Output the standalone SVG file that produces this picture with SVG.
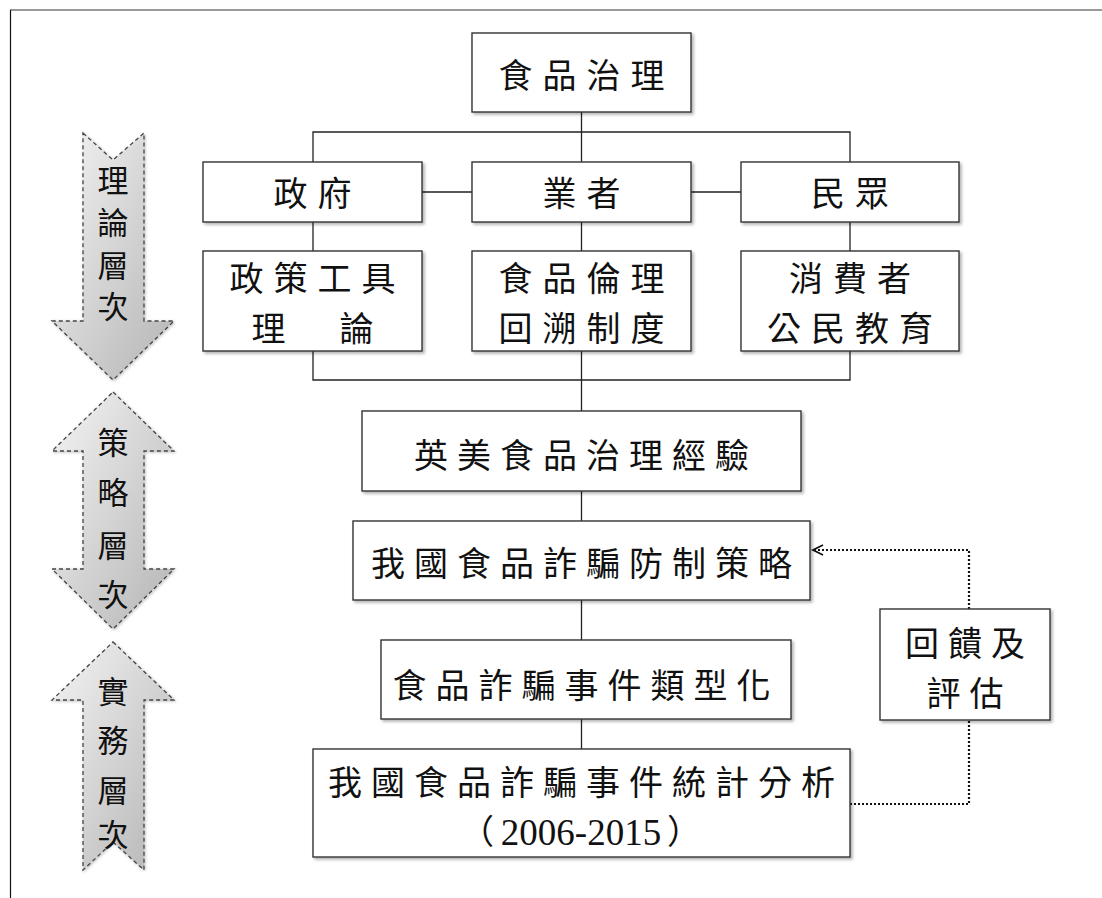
<svg xmlns="http://www.w3.org/2000/svg" width="1102" height="898" viewBox="0 0 1102 898">
<style>
.box{fill:#fff;stroke:#333;stroke-width:1.4;filter:url(#sh)}
.t{font-family:"Noto Sans CJK TC","Noto Sans CJK SC",sans-serif;font-size:34px;fill:#111;text-anchor:middle;letter-spacing:9px}
.tw{letter-spacing:10px}
.at{font-family:"Noto Sans CJK TC","Noto Sans CJK SC",sans-serif;font-size:31px;fill:#111;text-anchor:middle}
.num{font-family:"Liberation Serif",serif;font-size:37px;fill:#111;text-anchor:middle}
.par{font-family:"Noto Sans CJK TC","Noto Sans CJK SC",sans-serif;font-size:34px;fill:#111}
.ln{fill:none;stroke:#222;stroke-width:1.3}
.dot{fill:none;stroke:#111;stroke-width:2.2;stroke-dasharray:2 2}
.ah{fill:none;stroke:#111;stroke-width:1.8}
.arr{fill:url(#g);stroke:#444;stroke-width:1.3;stroke-dasharray:4 3;filter:url(#sh2)}
</style>
<defs>
<filter id="sh" x="-5%" y="-10%" width="115%" height="130%">
<feDropShadow dx="2" dy="2" stdDeviation="1.5" flood-color="#000" flood-opacity="0.3"/>
</filter>
<filter id="sh2" x="-10%" y="-10%" width="130%" height="130%">
<feDropShadow dx="1" dy="1" stdDeviation="1.5" flood-color="#000" flood-opacity="0.25"/>
</filter>
<linearGradient id="g" x1="0" y1="0" x2="1" y2="1">
<stop offset="0" stop-color="#f4f4f4"/>
<stop offset="1" stop-color="#b4b4b4"/>
</linearGradient>
</defs>
<rect width="1102" height="898" fill="#fff"/>
<g id="frame">
<line x1="10" y1="10" x2="1102" y2="10" stroke="#777" stroke-width="1.6"/>
<line x1="10.5" y1="10" x2="10.5" y2="898" stroke="#111" stroke-width="1.2"/>
</g>
<g id="connectors">
<path class="ln" d="M581.5,112 V162 M313,162 V132 H850 V162 M422,192 H472 M691,192 H741 M313,222 V251 M581.5,222 V251 M850,222 V251 M313,351 V380 H850 V351 M581.5,351 V411 M581.5,491 V521 M581.5,600 V640 M581.5,719 V749"/>
<path class="dot" d="M850,804 H969 V720 M969,609 V550 H815"/>
<path class="ah" d="M823,545 L813,550 L823,555"/>
</g>
<g id="level-theory">
<polygon class="arr" points="83,133 113,160 144,133 144,321 174,321 113,380 52,321 83,321"/>
<text class="at" x="113" y="192">理</text>
<text class="at" x="113" y="234">論</text>
<text class="at" x="113" y="277">層</text>
<text class="at" x="113" y="318">次</text>
</g>
<g id="level-strategy">
<polygon class="arr" points="113,392 174,451 144,451 144,569 174,569 113,629 52,569 83,569 83,451 52,451"/>
<text class="at" x="113" y="454">策</text>
<text class="at" x="113" y="504">略</text>
<text class="at" x="113" y="557">層</text>
<text class="at" x="113" y="606">次</text>
</g>
<g id="level-practice">
<polygon class="arr" points="113,642 174,700 144,700 144,870 113,842 83,870 83,700 52,700"/>
<text class="at" x="113" y="703">實</text>
<text class="at" x="113" y="752">務</text>
<text class="at" x="113" y="802">層</text>
<text class="at" x="113" y="846">次</text>
</g>
<g id="food-governance">
<rect class="box" x="472" y="33" width="219" height="79"/>
<text class="t tw" x="586.5" y="88">食品治理</text>
</g>
<g id="government">
<rect class="box" x="203" y="162" width="219" height="60"/>
<text class="t tw" x="317.5" y="206">政府</text>
</g>
<g id="industry">
<rect class="box" x="472" y="162" width="219" height="60"/>
<text class="t tw" x="586.5" y="206">業者</text>
</g>
<g id="public">
<rect class="box" x="741" y="162" width="218" height="60"/>
<text class="t tw" x="855" y="206">民眾</text>
</g>
<g id="policy-tools">
<rect class="box" x="203" y="251" width="219" height="100"/>
<text class="t tw" x="317.5" y="291">政策工具</text>
<text class="t tw" x="317.5" y="341">理　論</text>
</g>
<g id="food-ethics">
<rect class="box" x="472" y="251" width="219" height="100"/>
<text class="t tw" x="586.5" y="291">食品倫理</text>
<text class="t tw" x="586.5" y="341">回溯制度</text>
</g>
<g id="consumer-education">
<rect class="box" x="741" y="251" width="218" height="100"/>
<text class="t tw" x="855" y="291">消費者</text>
<text class="t tw" x="855" y="341">公民教育</text>
</g>
<g id="uk-us-experience">
<rect class="box" x="362" y="411" width="439" height="80"/>
<text class="t" x="586" y="468">英美食品治理經驗</text>
</g>
<g id="prevention-strategy">
<rect class="box" x="353" y="521" width="457" height="79"/>
<text class="t" x="586" y="576">我國食品詐騙防制策略</text>
</g>
<g id="typology">
<rect class="box" x="381" y="640" width="410" height="79"/>
<text class="t" x="586" y="698">食品詐騙事件類型化</text>
</g>
<g id="statistics">
<rect class="box" x="313" y="749" width="537" height="108"/>
<text class="t" x="586" y="795">我國食品詐騙事件統計分析</text>
<text class="par" x="494" y="844" text-anchor="end">（</text>
<text class="num" x="581" y="845">2006-2015</text>
<text class="par" x="667" y="844" text-anchor="start">）</text>
</g>
<g id="feedback">
<rect class="box" x="880" y="609" width="170" height="111"/>
<text class="t" x="969.5" y="656">回饋及</text>
<text class="t" x="969.5" y="706">評估</text>
</g>
</svg>
